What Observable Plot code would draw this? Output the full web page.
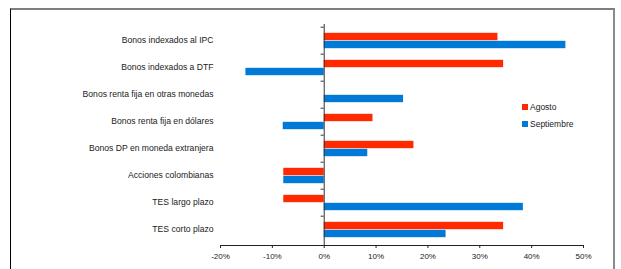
<!DOCTYPE html>
<html>
<head>
<meta charset="utf-8">
<script src="https://cdn.jsdelivr.net/npm/d3@7"></script>
<script src="https://cdn.jsdelivr.net/npm/@observablehq/plot@0.6"></script>
<style>
  html, body { margin: 0; padding: 0; background: #fff; }
  #wrap { position: relative; width: 621px; height: 269px; font-family: "Liberation Sans", Arial, sans-serif; }
  #frame { position: absolute; left: 10px; top: 8px; width: 605px; height: 270px;
           border-top: 2px solid #7f7f7f; border-left: 1.5px solid #000; border-right: 2px solid #8a8a8a; box-sizing: border-box; }
  #legend { position: absolute; left: 522px; top: 98px; font-size: 8.5px; color: #222; }
  #legend div { display: flex; align-items: center; height: 17px; }
  #legend span.sw { display: inline-block; width: 6px; height: 6px; margin-right: 2px; }
  svg { position: absolute; left: 0; top: 0; }
</style>
</head>
<body>
<div id="wrap"><div id="frame"></div><div id="legend"></div></div>
<script>
const categories = [
  "Bonos indexados al IPC",
  "Bonos indexados a DTF",
  "Bonos renta fija en otras monedas",
  "Bonos renta fija en dólares",
  "Bonos DP en moneda extranjera",
  "Acciones colombianas",
  "TES largo plazo",
  "TES corto plazo"
];
const agosto =     [0.335, 0.346, 0.0,   0.094, 0.173, -0.078, -0.078, 0.346];
const septiembre = [0.466, -0.151, 0.153, -0.079, 0.084, -0.078, 0.384, 0.235];
const xTicks = [-0.2, -0.1, 0, 0.1, 0.2, 0.3, 0.4, 0.5];
const seriesNames = ["Agosto", "Septiembre"];
const seriesColors = ["#ff2a00", "#007ad6"];

const dataA = categories.map((c, i) => ({cat: c, v: agosto[i]}));
const dataS = categories.map((c, i) => ({cat: c, v: septiembre[i]}));

const W = 621, H = 269, mT = 24, mB = 24;
const step = (H - mT - mB) / categories.length;
const barH = 8;

const chart = Plot.plot({
  width: W, height: H,
  marginLeft: 220, marginRight: 38, marginTop: mT, marginBottom: mB,
  style: {fontFamily: "Liberation Sans, Arial, sans-serif", fontSize: "8px", color: "#222", background: "transparent"},
  x: {domain: [-0.2, 0.5], ticks: xTicks, tickFormat: d => Math.round(d * 100) + "%", tickSize: 3, tickPadding: 5, line: true, label: null},
  y: {domain: categories, padding: 0, axis: null, label: null},
  marks: [
    Plot.barX(dataA, {y: "cat", x1: 0, x2: "v", fill: seriesColors[0], insetTop: step / 2 - barH, insetBottom: step / 2}),
    Plot.barX(dataS, {y: "cat", x1: 0, x2: "v", fill: seriesColors[1], insetTop: step / 2, insetBottom: step / 2 - barH}),
    Plot.ruleX([0], {stroke: "#333", strokeWidth: 1}),
    Plot.ruleY(categories, {y: d => d, x1: -0.006, x2: 0, dy: -step / 2, stroke: "#333"}),
    Plot.text(categories, {y: d => d, text: d => d, frameAnchor: "left", textAnchor: "end", dx: -7, dy: -1, fontSize: 8.6, fill: "#222"})
  ]
});
document.getElementById("wrap").appendChild(chart);

const legend = document.getElementById("legend");
seriesNames.forEach((n, i) => {
  const row = document.createElement("div");
  row.innerHTML = `<span class="sw" style="background:${seriesColors[i]}"></span>${n}`;
  legend.appendChild(row);
});
</script>
</body>
</html>
